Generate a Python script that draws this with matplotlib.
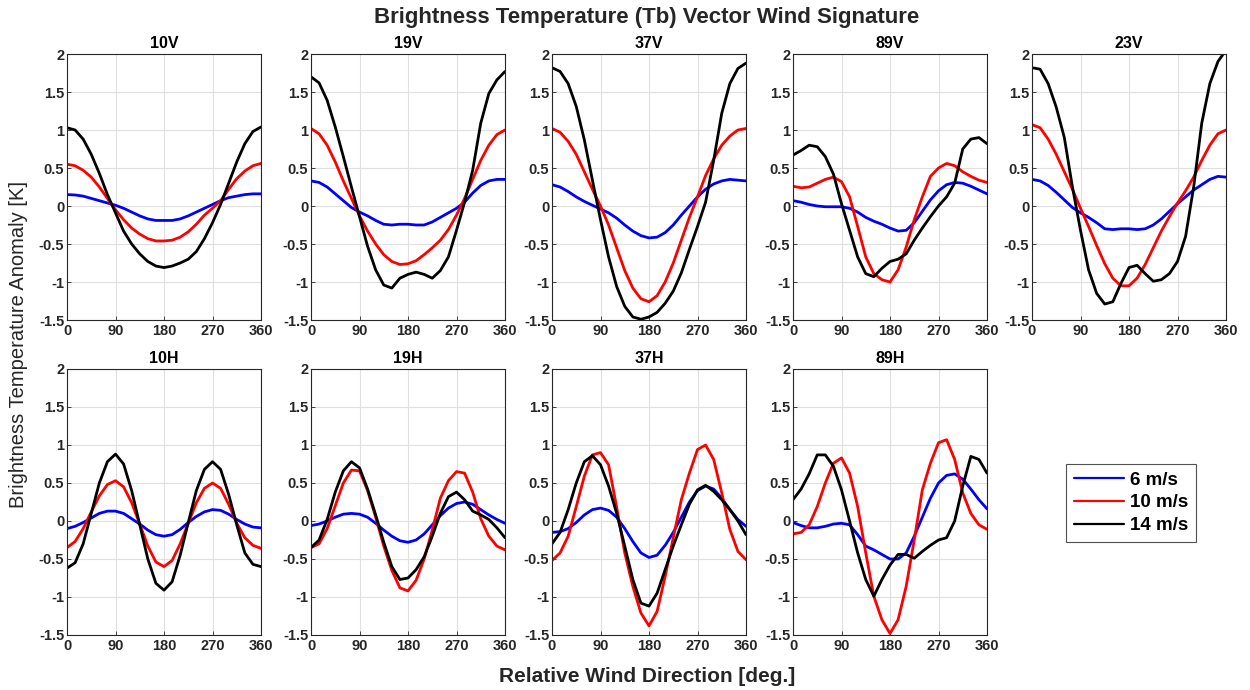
import matplotlib
matplotlib.use("Agg")
import matplotlib.pyplot as plt
import numpy as np

plt.rcParams['font.family'] = ['Liberation Sans', 'DejaVu Sans']

angles = list(range(0, 361, 15))
speeds = ["6 m/s", "10 m/s", "14 m/s"]
panels = ["10V", "19V", "37V", "89V", "23V", "10H", "19H", "37H", "89H"]

v10_6 = [0.15, 0.145, 0.13, 0.10, 0.07, 0.04, 0.01, -0.03, -0.08, -0.13, -0.17, -0.19, -0.19, -0.19, -0.17, -0.13, -0.08, -0.03, 0.02, 0.07, 0.11, 0.13, 0.15, 0.16, 0.16]
v10_10 = [0.55, 0.53, 0.47, 0.38, 0.25, 0.10, -0.05, -0.18, -0.29, -0.37, -0.43, -0.46, -0.46, -0.45, -0.41, -0.34, -0.24, -0.12, -0.03, 0.07, 0.22, 0.36, 0.46, 0.53, 0.56]
v10_14 = [1.03, 1.00, 0.88, 0.68, 0.43, 0.15, -0.09, -0.33, -0.50, -0.63, -0.73, -0.79, -0.81, -0.79, -0.75, -0.70, -0.60, -0.43, -0.22, 0.02, 0.30, 0.58, 0.82, 0.98, 1.04]

v19_6 = [0.33, 0.31, 0.25, 0.16, 0.07, -0.02, -0.08, -0.13, -0.19, -0.24, -0.25, -0.24, -0.24, -0.25, -0.25, -0.21, -0.15, -0.09, -0.03, 0.05, 0.17, 0.27, 0.33, 0.35, 0.35]
v19_10 = [1.02, 0.95, 0.80, 0.58, 0.33, 0.10, -0.13, -0.33, -0.50, -0.64, -0.73, -0.77, -0.76, -0.72, -0.64, -0.55, -0.45, -0.31, -0.12, 0.10, 0.35, 0.60, 0.80, 0.94, 1.00]
v19_14 = [1.70, 1.62, 1.39, 1.04, 0.65, 0.25, -0.14, -0.53, -0.84, -1.04, -1.08, -0.95, -0.90, -0.87, -0.90, -0.95, -0.85, -0.67, -0.32, 0.05, 0.47, 1.09, 1.48, 1.66, 1.77]

v37_6 = [0.28, 0.25, 0.19, 0.12, 0.06, 0.01, -0.04, -0.09, -0.16, -0.25, -0.33, -0.39, -0.42, -0.41, -0.35, -0.25, -0.12, 0.00, 0.12, 0.22, 0.29, 0.33, 0.35, 0.34, 0.33]
v37_10 = [1.02, 0.97, 0.85, 0.68, 0.45, 0.22, 0.00, -0.25, -0.55, -0.85, -1.08, -1.22, -1.26, -1.18, -1.00, -0.75, -0.45, -0.15, 0.12, 0.40, 0.62, 0.80, 0.92, 1.00, 1.02]
v37_14 = [1.82, 1.77, 1.61, 1.31, 0.87, 0.34, -0.18, -0.67, -1.06, -1.32, -1.46, -1.49, -1.46, -1.40, -1.28, -1.12, -0.88, -0.57, -0.27, 0.05, 0.60, 1.22, 1.61, 1.81, 1.88]

v89_6 = [0.07, 0.05, 0.02, 0.00, -0.01, -0.01, -0.01, -0.03, -0.08, -0.15, -0.20, -0.24, -0.29, -0.33, -0.32, -0.22, -0.07, 0.08, 0.20, 0.28, 0.31, 0.30, 0.26, 0.21, 0.16]
v89_10 = [0.26, 0.24, 0.25, 0.30, 0.35, 0.38, 0.32, 0.12, -0.27, -0.67, -0.89, -0.97, -1.00, -0.84, -0.54, -0.18, 0.12, 0.39, 0.50, 0.56, 0.53, 0.45, 0.39, 0.34, 0.31]
v89_14 = [0.67, 0.73, 0.80, 0.78, 0.65, 0.42, 0.03, -0.32, -0.67, -0.89, -0.93, -0.82, -0.73, -0.70, -0.63, -0.45, -0.29, -0.14, 0.00, 0.12, 0.30, 0.75, 0.88, 0.90, 0.82]

v23_6 = [0.35, 0.33, 0.27, 0.18, 0.08, -0.02, -0.09, -0.15, -0.22, -0.30, -0.31, -0.30, -0.30, -0.31, -0.30, -0.25, -0.17, -0.07, 0.03, 0.12, 0.21, 0.28, 0.35, 0.39, 0.38]
v23_10 = [1.07, 1.03, 0.88, 0.68, 0.45, 0.22, -0.03, -0.27, -0.52, -0.76, -0.95, -1.05, -1.05, -0.95, -0.77, -0.55, -0.33, -0.14, 0.04, 0.20, 0.38, 0.60, 0.80, 0.95, 1.00]
v23_14 = [1.82, 1.80, 1.61, 1.30, 0.90, 0.25, -0.32, -0.84, -1.15, -1.29, -1.26, -1.02, -0.81, -0.78, -0.89, -0.99, -0.97, -0.89, -0.73, -0.40, 0.25, 1.09, 1.61, 1.90, 2.05]

h10_6 = [-0.10, -0.07, -0.02, 0.04, 0.10, 0.13, 0.13, 0.10, 0.03, -0.04, -0.12, -0.18, -0.20, -0.18, -0.11, -0.02, 0.06, 0.12, 0.15, 0.14, 0.09, 0.02, -0.04, -0.08, -0.09]
h10_10 = [-0.35, -0.27, -0.10, 0.12, 0.33, 0.48, 0.53, 0.45, 0.24, -0.04, -0.33, -0.54, -0.60, -0.52, -0.30, -0.03, 0.24, 0.43, 0.50, 0.43, 0.22, -0.03, -0.22, -0.32, -0.36]
h10_14 = [-0.62, -0.55, -0.30, 0.10, 0.50, 0.78, 0.88, 0.75, 0.40, -0.05, -0.50, -0.82, -0.91, -0.80, -0.45, -0.02, 0.40, 0.68, 0.78, 0.68, 0.35, -0.05, -0.42, -0.57, -0.60]

h19_6 = [-0.06, -0.04, 0.00, 0.05, 0.09, 0.10, 0.09, 0.05, -0.03, -0.12, -0.20, -0.26, -0.28, -0.25, -0.17, -0.05, 0.07, 0.17, 0.23, 0.25, 0.22, 0.15, 0.08, 0.02, -0.03]
h19_10 = [-0.35, -0.30, -0.10, 0.20, 0.50, 0.67, 0.66, 0.40, 0.05, -0.33, -0.65, -0.88, -0.92, -0.78, -0.50, -0.12, 0.30, 0.53, 0.65, 0.63, 0.38, 0.03, -0.20, -0.33, -0.38]
h19_14 = [-0.35, -0.25, 0.02, 0.38, 0.66, 0.78, 0.70, 0.42, 0.08, -0.28, -0.60, -0.77, -0.75, -0.64, -0.47, -0.20, 0.10, 0.32, 0.38, 0.28, 0.13, 0.08, 0.02, -0.09, -0.22]

h37_6 = [-0.15, -0.14, -0.10, -0.02, 0.08, 0.15, 0.17, 0.14, 0.05, -0.10, -0.27, -0.42, -0.48, -0.45, -0.32, -0.15, 0.05, 0.25, 0.40, 0.46, 0.42, 0.30, 0.15, 0.02, -0.07]
h37_10 = [-0.52, -0.42, -0.20, 0.19, 0.59, 0.87, 0.90, 0.74, 0.18, -0.42, -0.86, -1.21, -1.38, -1.19, -0.73, -0.22, 0.28, 0.63, 0.94, 1.00, 0.81, 0.37, -0.11, -0.40, -0.51]
h37_14 = [-0.30, -0.15, 0.15, 0.50, 0.78, 0.86, 0.74, 0.46, 0.10, -0.33, -0.77, -1.08, -1.12, -0.95, -0.64, -0.33, -0.05, 0.22, 0.41, 0.47, 0.39, 0.28, 0.15, 0.00, -0.18]

h89_6 = [-0.02, -0.06, -0.09, -0.09, -0.07, -0.04, -0.03, -0.05, -0.18, -0.33, -0.38, -0.44, -0.50, -0.50, -0.42, -0.20, 0.05, 0.30, 0.50, 0.60, 0.62, 0.55, 0.42, 0.28, 0.16]
h89_10 = [-0.17, -0.15, -0.05, 0.19, 0.50, 0.76, 0.83, 0.63, 0.19, -0.42, -0.99, -1.30, -1.48, -1.30, -0.86, -0.25, 0.41, 0.76, 1.03, 1.07, 0.81, 0.37, 0.10, -0.05, -0.11]
h89_14 = [0.28, 0.42, 0.62, 0.87, 0.87, 0.72, 0.41, 0.00, -0.42, -0.77, -0.99, -0.77, -0.58, -0.44, -0.44, -0.49, -0.40, -0.32, -0.25, -0.22, 0.00, 0.46, 0.85, 0.81, 0.63]

data = {
    "10V": [v10_6, v10_10, v10_14],
    "19V": [v19_6, v19_10, v19_14],
    "37V": [v37_6, v37_10, v37_14],
    "89V": [v89_6, v89_10, v89_14],
    "23V": [v23_6, v23_10, v23_14],
    "10H": [h10_6, h10_10, h10_14],
    "19H": [h19_6, h19_10, h19_14],
    "37H": [h37_6, h37_10, h37_14],
    "89H": [h89_6, h89_10, h89_14],
}

colors = ["#0000FF", "#FF0000", "#000000"]
W, H = 1250, 690
fig = plt.figure(figsize=(12.5, 6.9), dpi=100)

lefts = [67, 311, 552, 793, 1032]
aw = 194
tops = [54, 369]
ah = 266
axcol = "#262626"
yticks = [-1.5, -1, -0.5, 0, 0.5, 1, 1.5, 2]
ylabels = ["-1.5", "-1", "-0.5", "0", "0.5", "1", "1.5", "2"]

handles = None
for i, name in enumerate(panels):
    r, c = divmod(i, 5)
    ax = fig.add_axes([lefts[c] / W, 1 - (tops[r] + ah) / H, aw / W, ah / H])
    hs = []
    for k in range(3):
        h, = ax.plot(angles, data[name][k], color=colors[k], lw=2.0, solid_capstyle='round')
        hs.append(h)
    handles = hs
    ax.set_xlim(0, 360)
    ax.set_ylim(-1.5, 2)
    ax.set_xticks([0, 90, 180, 270, 360])
    ax.set_yticks(yticks)
    ax.set_yticklabels(ylabels)
    ax.grid(True, color="#e0e0e0", lw=0.8)
    ax.set_axisbelow(True)
    ax.tick_params(direction='in', length=3, width=0.6, colors=axcol, labelsize=10.5, pad=2)
    ax.tick_params(axis='x', pad=3)
    for lab in ax.get_xticklabels() + ax.get_yticklabels():
        lab.set_fontweight('bold')
    for s in ax.spines.values():
        s.set_color(axcol)
        s.set_linewidth(0.8)
    ax.set_title(name, fontsize=11.5, fontweight='bold', pad=4, color="#000000")

fig.text(647 / W, 1 - 17 / H, "Brightness Temperature (Tb) Vector Wind Signature",
         ha='center', va='center', fontsize=16, fontweight='bold', color="#262626")
fig.text(647 / W, 1 - 676 / H, "Relative Wind Direction [deg.]",
         ha='center', va='center', fontsize=15, fontweight='bold', color="#262626")
fig.text(19 / W, 1 - 345 / H, "Brightness Temperature Anomaly [K]", rotation=90,
         ha='center', va='center', fontsize=14.5, color="#262626")

leg = fig.legend(handles, speeds, loc='upper left',
                 bbox_to_anchor=(1066 / W, 1 - 464 / H),
                 prop={'weight': 'bold', 'size': 13.5}, frameon=True, fancybox=False,
                 handlelength=2.7, borderpad=0.4, labelspacing=0.3, handletextpad=0.3,
                 borderaxespad=0)
for lh in leg.get_lines():
    lh.set_linewidth(1.6)
leg.get_frame().set_edgecolor("#262626")
leg.get_frame().set_linewidth(0.8)

fig.savefig("out.png", dpi=100, facecolor="white")
